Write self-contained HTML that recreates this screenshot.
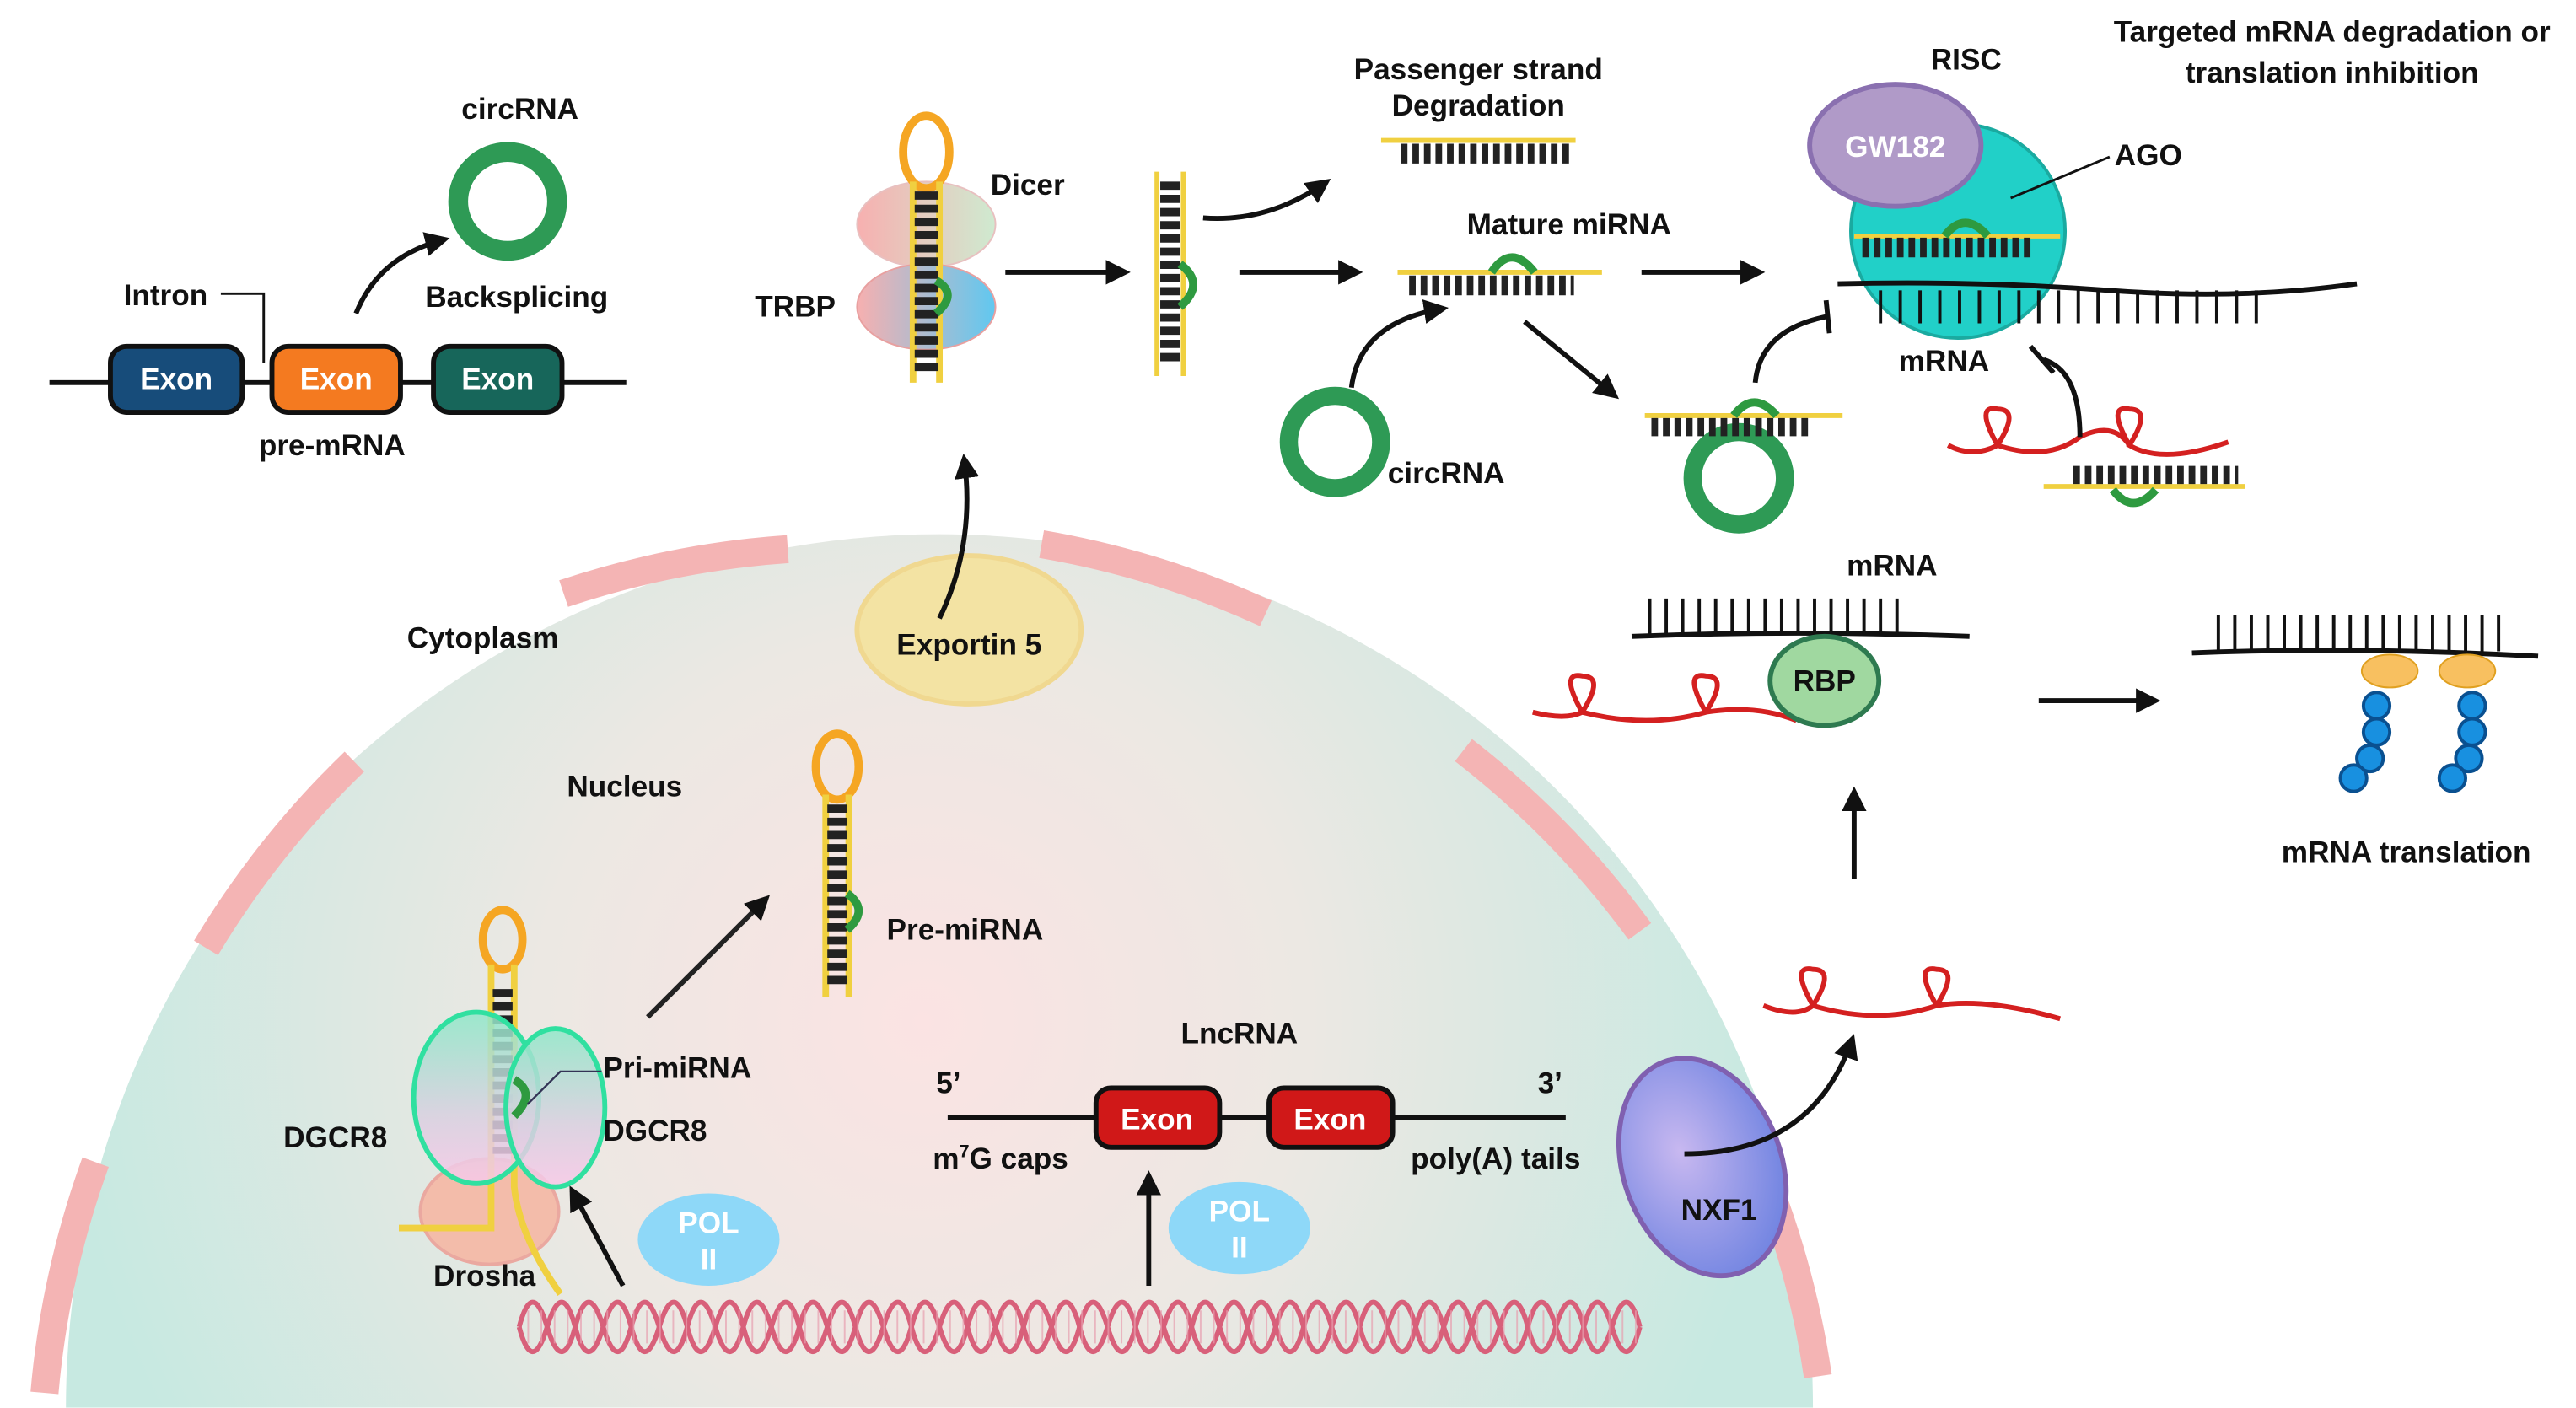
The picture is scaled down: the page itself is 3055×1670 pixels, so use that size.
<!DOCTYPE html>
<html><head><meta charset="utf-8"><style>
html,body{margin:0;padding:0;background:#fff;overflow:hidden;width:3055px;height:1670px;}
svg{display:block;}
text{font-family:"Liberation Sans",sans-serif;font-weight:bold;font-size:18px;fill:#111;}
</style></head><body>
<svg width="3055" height="1670" viewBox="0 0 1563 854" xmlns="http://www.w3.org/2000/svg">
<defs>
<clipPath id="frame"><rect x="0" y="0" width="1563" height="854"/></clipPath>
<radialGradient id="nuc" cx="560" cy="620" r="520" gradientUnits="userSpaceOnUse">
<stop offset="0" stop-color="#fbe3e3"/><stop offset="0.45" stop-color="#ece8e3"/><stop offset="1" stop-color="#c7e9e1"/></radialGradient>
<linearGradient id="dg" x1="0" y1="0" x2="0" y2="1"><stop offset="0" stop-color="#8ee8c8"/><stop offset="0.6" stop-color="#d8d0e0"/><stop offset="1" stop-color="#f8c8e8"/></linearGradient>
<linearGradient id="dc1" x1="0" y1="0" x2="1" y2="0"><stop offset="0" stop-color="#f7b0b0"/><stop offset="1" stop-color="#cfead0"/></linearGradient>
<linearGradient id="dc2" x1="0" y1="0" x2="1" y2="0"><stop offset="0" stop-color="#f7b0b0"/><stop offset="1" stop-color="#60c8f0"/></linearGradient>
<radialGradient id="nx" cx="0.4" cy="0.4" r="0.7"><stop offset="0" stop-color="#c8b8f0"/><stop offset="1" stop-color="#6a80e0"/></radialGradient>
<marker id="ah" viewBox="0 0 10 10" refX="8" refY="5" markerWidth="5" markerHeight="5" orient="auto"><path d="M0,0L10,5L0,10z" fill="#111"/></marker>
</defs>
<g clip-path="url(#frame)">
<!-- nucleus -->
<path d="M40,854 A530,530 0 0 1 1100,854 Z" fill="url(#nuc)"/>
<g fill="none" stroke="#f4b4b4" stroke-width="17">
<path d="M342,360 A550,550 0 0 1 478,333"/>
<path d="M632,330 A550,550 0 0 1 768,372"/>
<path d="M888,455 A550,550 0 0 1 995,565"/>
<path d="M1065,700 A550,550 0 0 1 1103,835"/>
<path d="M125,575 A550,550 0 0 1 215,462"/>
<path d="M27,845 A550,550 0 0 1 58,705"/>
</g>
</g>
<text x="247" y="393">Cytoplasm</text>
<text x="344" y="483">Nucleus</text>

<!-- pre-mRNA -->
<line x1="30" y1="232" x2="380" y2="232" stroke="#111" stroke-width="3"/>
<rect x="67" y="210" width="80" height="40" rx="10" fill="#174c7a" stroke="#111" stroke-width="3"/>
<rect x="165" y="210" width="78" height="40" rx="10" fill="#f47a20" stroke="#111" stroke-width="3"/>
<rect x="263" y="210" width="78" height="40" rx="10" fill="#17665a" stroke="#111" stroke-width="3"/>
<text x="107" y="236" text-anchor="middle" style="fill:#fff">Exon</text>
<text x="204" y="236" text-anchor="middle" style="fill:#fff">Exon</text>
<text x="302" y="236" text-anchor="middle" style="fill:#fff">Exon</text>
<text x="75" y="185">Intron</text>
<polyline points="134,178 160,178 160,220" fill="none" stroke="#111" stroke-width="1.5"/>
<text x="157" y="276">pre-mRNA</text>
<circle cx="308" cy="122" r="30" fill="none" stroke="#2e9a55" stroke-width="12"/>
<text x="280" y="72">circRNA</text>
<path d="M216,190 Q230,155 270,145" fill="none" stroke="#111" stroke-width="3" marker-end="url(#ah)"/>
<text x="258" y="186">Backsplicing</text>

<!-- Dicer -->
<ellipse cx="562" cy="136" rx="42" ry="26" fill="url(#dc1)" stroke="#e8c0c0"/>
<ellipse cx="562" cy="186" rx="42" ry="26" fill="url(#dc2)" stroke="#e8a0a0"/>
<ellipse cx="562" cy="92" rx="14" ry="22" fill="none" stroke="#f5a623" stroke-width="5"/>
<line x1="554" y1="110" x2="554" y2="232" stroke="#f0d040" stroke-width="4"/>
<line x1="570" y1="110" x2="570" y2="232" stroke="#f0d040" stroke-width="4"/>
<line x1="562" y1="116" x2="562" y2="228" stroke="#222" stroke-width="14" stroke-dasharray="5 3"/>
<path d="M568,170 q14,8 0,20" fill="none" stroke="#2e9a40" stroke-width="5"/>
<text x="601" y="118">Dicer</text>
<text x="458" y="192">TRBP</text>
<line x1="610" y1="165" x2="683" y2="165" stroke="#111" stroke-width="3" marker-end="url(#ah)"/>
<line x1="702" y1="104" x2="702" y2="228" stroke="#f0d040" stroke-width="3"/>
<line x1="718" y1="104" x2="718" y2="228" stroke="#f0d040" stroke-width="3"/>
<line x1="710" y1="110" x2="710" y2="222" stroke="#222" stroke-width="12" stroke-dasharray="5 3"/>
<path d="M716,160 q16,12 0,26" fill="none" stroke="#2e9a40" stroke-width="5"/>
<path d="M730,132 Q770,135 805,110" fill="none" stroke="#111" stroke-width="3" marker-end="url(#ah)"/>
<line x1="752" y1="165" x2="824" y2="165" stroke="#111" stroke-width="3" marker-end="url(#ah)"/>

<text x="897" y="48" text-anchor="middle">Passenger strand</text>
<text x="897" y="70" text-anchor="middle">Degradation</text>
<line x1="838" y1="85" x2="956" y2="85" stroke="#f0d040" stroke-width="3"/>
<line x1="850" y1="93" x2="952" y2="93" stroke="#222" stroke-width="12" stroke-dasharray="4 3"/>
<text x="952" y="142" text-anchor="middle">Mature miRNA</text>
<line x1="848" y1="165" x2="972" y2="165" stroke="#f0d040" stroke-width="3"/>
<line x1="855" y1="173" x2="955" y2="173" stroke="#222" stroke-width="12" stroke-dasharray="4 3"/>
<path d="M905,165 q12,-18 26,0" fill="none" stroke="#2e9a40" stroke-width="5"/>
<line x1="996" y1="165" x2="1068" y2="165" stroke="#111" stroke-width="3" marker-end="url(#ah)"/>

<!-- RISC -->
<text x="1193" y="42" text-anchor="middle">RISC</text>
<text x="1415" y="25" text-anchor="middle">Targeted mRNA degradation or</text>
<text x="1415" y="50" text-anchor="middle">translation inhibition</text>
<circle cx="1188" cy="140" r="65" fill="#21d0c8" stroke="#1aaaa0" stroke-width="2"/>
<ellipse cx="1150" cy="88" rx="52" ry="37" fill="#b09ac8" stroke="#8a70b0" stroke-width="3"/>
<text x="1150" y="95" text-anchor="middle" style="fill:#fff">GW182</text>
<text x="1283" y="100">AGO</text>
<line x1="1220" y1="120" x2="1280" y2="95" stroke="#111" stroke-width="1.5"/>
<line x1="1125" y1="143" x2="1250" y2="143" stroke="#f0d040" stroke-width="3"/>
<line x1="1130" y1="150" x2="1232" y2="150" stroke="#222" stroke-width="12" stroke-dasharray="4 3"/>
<path d="M1180,143 q12,-16 26,0" fill="none" stroke="#2e9a40" stroke-width="5"/>
<path d="M1115,172 Q1200,170 1280,176 T1430,172" fill="none" stroke="#111" stroke-width="3"/>
<line x1="1140" y1="186" x2="1380" y2="186" stroke="#111" stroke-width="20" stroke-dasharray="2 10"/>
<text x="1152" y="225">mRNA</text>

<!-- circRNA sponge -->
<circle cx="810" cy="268" r="28" fill="none" stroke="#2e9a55" stroke-width="11"/>
<text x="842" y="293">circRNA</text>
<path d="M820,235 Q825,195 876,187" fill="none" stroke="#111" stroke-width="3" marker-end="url(#ah)"/>
<line x1="925" y1="195" x2="980" y2="240" stroke="#111" stroke-width="3" marker-end="url(#ah)"/>
<circle cx="1055" cy="290" r="28" fill="none" stroke="#2e9a55" stroke-width="11"/>
<line x1="998" y1="252" x2="1118" y2="252" stroke="#f0d040" stroke-width="3"/>
<line x1="1002" y1="259" x2="1100" y2="259" stroke="#222" stroke-width="11" stroke-dasharray="4 3"/>
<path d="M1052,252 q12,-16 26,0" fill="none" stroke="#2e9a40" stroke-width="5"/>
<path d="M1065,232 Q1068,200 1108,192" fill="none" stroke="#111" stroke-width="3"/>
<line x1="1108" y1="182" x2="1110" y2="202" stroke="#111" stroke-width="3"/>
<!-- lnc sponge -->
<path d="M1182,270 q15,8 30,0 q-14,-25 0,-22 q14,0 0,22 q30,10 50,-5 q20,-10 30,5 q-14,-25 0,-22 q14,0 0,22 q20,12 60,-2" fill="none" stroke="#d42020" stroke-width="3"/>
<line x1="1240" y1="295" x2="1362" y2="295" stroke="#f0d040" stroke-width="3"/>
<line x1="1258" y1="288" x2="1358" y2="288" stroke="#222" stroke-width="11" stroke-dasharray="4 3"/>
<path d="M1282,297 q12,16 26,0" fill="none" stroke="#2e9a40" stroke-width="5"/>
<path d="M1262,265 Q1262,225 1240,218" fill="none" stroke="#111" stroke-width="3"/>
<line x1="1232" y1="210" x2="1246" y2="226" stroke="#111" stroke-width="3"/>

<!-- Exportin -->
<ellipse cx="588" cy="382" rx="68" ry="45" fill="#f3e3a3" stroke="#f0d890" stroke-width="3"/>
<text x="588" y="397" text-anchor="middle">Exportin 5</text>
<path d="M570,375 Q592,330 585,278" fill="none" stroke="#111" stroke-width="3" marker-end="url(#ah)"/>

<!-- Pre-miRNA -->
<ellipse cx="508" cy="465" rx="13" ry="20" fill="none" stroke="#f5a623" stroke-width="5"/>
<line x1="501" y1="482" x2="501" y2="605" stroke="#f0d040" stroke-width="4"/>
<line x1="515" y1="482" x2="515" y2="605" stroke="#f0d040" stroke-width="4"/>
<line x1="508" y1="488" x2="508" y2="598" stroke="#222" stroke-width="12" stroke-dasharray="5 3"/>
<path d="M514,542 q14,10 0,22" fill="none" stroke="#2e9a40" stroke-width="5"/>
<text x="538" y="570">Pre-miRNA</text>
<line x1="393" y1="617" x2="465" y2="545" stroke="#222" stroke-width="3" marker-end="url(#ah)"/>

<!-- DGCR8 -->
<ellipse cx="297" cy="735" rx="42" ry="32" fill="#f3bcaa" stroke="#eaa8a0" stroke-width="2"/>
<ellipse cx="305" cy="570" rx="12" ry="18" fill="none" stroke="#f5a623" stroke-width="5"/>
<polyline points="298,585 298,745 242,745" fill="none" stroke="#f0d040" stroke-width="4"/>
<path d="M312,585 L312,720 Q315,750 340,785" fill="none" stroke="#f0d040" stroke-width="4"/>
<line x1="305" y1="600" x2="305" y2="700" stroke="#222" stroke-width="12" stroke-dasharray="5 3"/>
<ellipse cx="289" cy="666" rx="38" ry="52" fill="url(#dg)" fill-opacity="0.85" stroke="#30e0a0" stroke-width="3"/>
<ellipse cx="337" cy="672" rx="30" ry="48" fill="url(#dg)" fill-opacity="0.85" stroke="#30e0a0" stroke-width="3"/>
<path d="M312,655 q14,8 0,22" fill="none" stroke="#2e9a40" stroke-width="5"/>
<polyline points="320,670 340,650 365,650" fill="none" stroke="#335" stroke-width="1.2"/>
<text x="366" y="654">Pri-miRNA</text>
<text x="366" y="692">DGCR8</text>
<text x="172" y="696">DGCR8</text>
<text x="263" y="780">Drosha</text>
<line x1="378" y1="780" x2="347" y2="722" stroke="#111" stroke-width="3" marker-end="url(#ah)"/>
<ellipse cx="430" cy="752" rx="43" ry="28" fill="#8ed8f8"/>
<text x="430" y="748" text-anchor="middle" style="fill:#fff">POL</text>
<text x="430" y="770" text-anchor="middle" style="fill:#fff">II</text>
<ellipse cx="752" cy="745" rx="43" ry="28" fill="#8ed8f8"/>
<text x="752" y="741" text-anchor="middle" style="fill:#fff">POL</text>
<text x="752" y="763" text-anchor="middle" style="fill:#fff">II</text>

<!-- DNA -->
<g fill="none" stroke="#d8607a" stroke-width="3">
<path d="M315,805 q8,-30 17,0 t17,0 t17,0 t17,0 t17,0 t17,0 t17,0 t17,0 t17,0 t17,0 t17,0 t17,0 t17,0 t17,0 t17,0 t17,0 t17,0 t17,0 t17,0 t17,0 t17,0 t17,0 t17,0 t17,0 t17,0 t17,0 t17,0 t17,0 t17,0 t17,0 t17,0 t17,0 t17,0 t17,0 t17,0 t17,0 t17,0 t17,0 t17,0 t17,0"/>
<path d="M315,805 q8,30 17,0 t17,0 t17,0 t17,0 t17,0 t17,0 t17,0 t17,0 t17,0 t17,0 t17,0 t17,0 t17,0 t17,0 t17,0 t17,0 t17,0 t17,0 t17,0 t17,0 t17,0 t17,0 t17,0 t17,0 t17,0 t17,0 t17,0 t17,0 t17,0 t17,0 t17,0 t17,0 t17,0 t17,0 t17,0 t17,0 t17,0 t17,0 t17,0 t17,0"/>
</g>
<line x1="320" y1="805" x2="995" y2="805" stroke="#e8a0b0" stroke-width="20" stroke-dasharray="1 7" opacity="0.7"/>

<!-- LncRNA -->
<text x="752" y="633" text-anchor="middle">LncRNA</text>
<line x1="575" y1="678" x2="950" y2="678" stroke="#111" stroke-width="3"/>
<rect x="665" y="660" width="75" height="36" rx="9" fill="#d01818" stroke="#111" stroke-width="3"/>
<rect x="770" y="660" width="75" height="36" rx="9" fill="#d01818" stroke="#111" stroke-width="3"/>
<text x="702" y="685" text-anchor="middle" style="fill:#fff">Exon</text>
<text x="807" y="685" text-anchor="middle" style="fill:#fff">Exon</text>
<text x="568" y="663">5’</text>
<text x="933" y="663">3’</text>
<text x="566" y="709">m<tspan font-size="11" dy="-7">7</tspan><tspan dy="7">G caps</tspan></text>
<text x="856" y="709">poly(A) tails</text>
<line x1="697" y1="780" x2="697" y2="713" stroke="#111" stroke-width="3" marker-end="url(#ah)"/>

<!-- NXF1 -->
<ellipse cx="1033" cy="708" rx="48" ry="68" transform="rotate(-20 1033 708)" fill="url(#nx)" stroke="#8060b0" stroke-width="3"/>
<text x="1020" y="740">NXF1</text>
<path d="M1022,700 Q1100,700 1124,630" fill="none" stroke="#111" stroke-width="3" marker-end="url(#ah)"/>
<path d="M1070,610 q20,8 30,0 q-14,-25 0,-22 q14,0 0,22 q40,12 75,0 q-14,-25 0,-22 q14,0 0,22 q30,-5 75,8" fill="none" stroke="#d42020" stroke-width="3"/>
<line x1="1125" y1="533" x2="1125" y2="480" stroke="#111" stroke-width="3" marker-end="url(#ah)"/>

<!-- mRNA RBP -->
<text x="1148" y="349" text-anchor="middle">mRNA</text>
<path d="M990,386 Q1090,382 1195,386" fill="none" stroke="#111" stroke-width="3"/>
<line x1="1000" y1="374" x2="1160" y2="374" stroke="#111" stroke-width="22" stroke-dasharray="2 8"/>
<path d="M930,432 q20,5 30,0 q-14,-25 0,-22 q14,0 0,22 q40,10 75,0 q-14,-25 0,-22 q14,0 0,22 q30,-5 55,5" fill="none" stroke="#d42020" stroke-width="3"/>
<ellipse cx="1107" cy="413" rx="33" ry="27" fill="#a0d8a0" stroke="#2e7a50" stroke-width="3"/>
<text x="1107" y="419" text-anchor="middle">RBP</text>
<line x1="1237" y1="425" x2="1308" y2="425" stroke="#111" stroke-width="3" marker-end="url(#ah)"/>

<!-- translation -->
<path d="M1330,396 Q1430,392 1540,398" fill="none" stroke="#111" stroke-width="3"/>
<line x1="1345" y1="384" x2="1525" y2="384" stroke="#111" stroke-width="22" stroke-dasharray="2 8"/>
<ellipse cx="1450" cy="407" rx="17" ry="10" fill="#f8c060" stroke="#e0a020"/>
<ellipse cx="1497" cy="407" rx="17" ry="10" fill="#f8c060" stroke="#e0a020"/>
<g fill="#1890e0" stroke="#0a5090" stroke-width="2">
<circle cx="1442" cy="428" r="8"/><circle cx="1442" cy="444" r="8"/><circle cx="1438" cy="460" r="8"/><circle cx="1428" cy="472" r="8"/>
<circle cx="1500" cy="428" r="8"/><circle cx="1500" cy="444" r="8"/><circle cx="1498" cy="460" r="8"/><circle cx="1488" cy="472" r="8"/>
</g>
<text x="1460" y="523" text-anchor="middle">mRNA translation</text>
</svg>
</body></html>
